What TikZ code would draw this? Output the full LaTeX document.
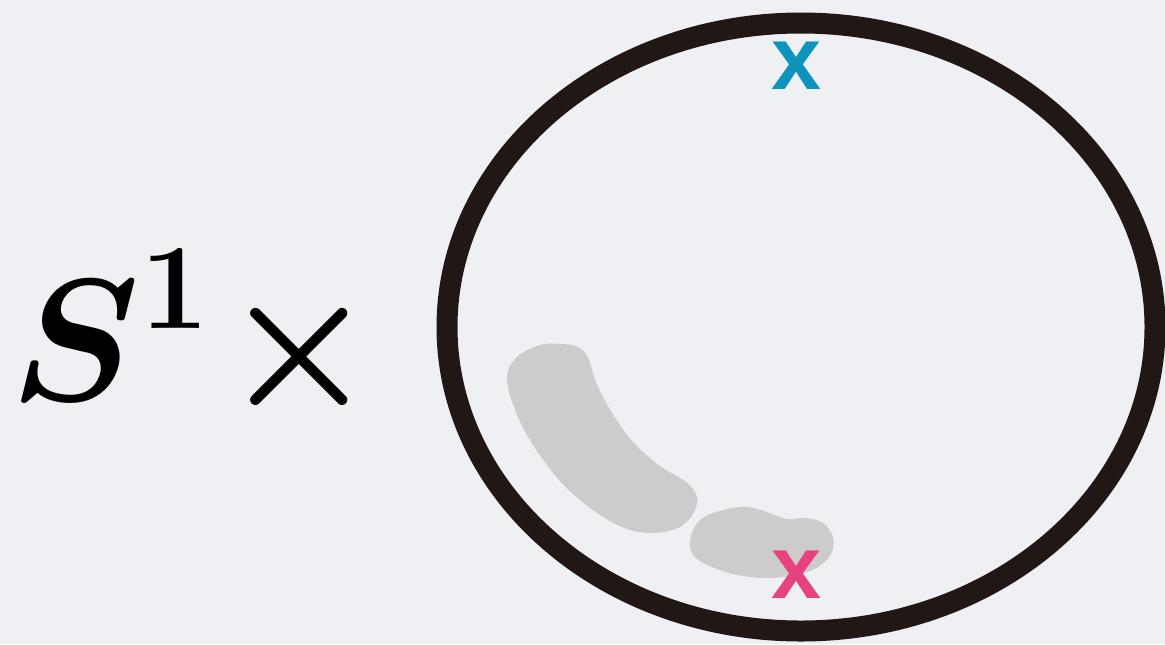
\documentclass[tikz,border=0pt]{standalone}
\usepackage{fix-cm}
\usepackage{fontspec}
\newfontfamily\xfont{Liberation Sans}
\definecolor{bgc}{HTML}{EFF0F3}
\definecolor{ringc}{HTML}{211815}
\definecolor{blobc}{HTML}{CBCCCB}
\definecolor{bluex}{HTML}{0E93BC}
\definecolor{pinkx}{HTML}{E8417F}
\tikzset{
  ring/.style={draw=ringc, line width=10.5pt},
  blob/.style={fill=blobc, draw=none},
  mark x/.style={inner sep=0pt, font=\xfont\bfseries\fontsize{45}{50}\selectfont},
}
\begin{document}
\begin{tikzpicture}[x=0.5pt,y=-0.5pt]
\fill[bgc] (0,0) rectangle (1165,644);
\useasboundingbox (0,0) rectangle (1165,644);
\node[anchor=base west, inner sep=0pt, font=\fontsize{87}{90}\selectfont\boldmath] (lbl) at (10,400) {$\displaystyle S^{\hbox{\fontsize{61}{61}\usefont{OT1}{cmr}{bx}{n}1}}\mkern1mu\times$};
\draw[ring] (801,327) ellipse [x radius=354, y radius=304];
\fill[blob] plot[smooth cycle, tension=0.6] coordinates {(507,377) (517,357) (540,345) (563,344) (580,348) (589,360) (596,382) (612,413) (634,443) (660,466) (686,482) (697,497) (693,514) (678,528) (650,533) (622,527) (590,508) (560,481) (533,445) (515,410)};
\fill[blob] plot[smooth cycle, tension=0.6] coordinates {(690,540) (700,520) (723,510) (747,507) (767,512) (787,519) (805,518) (823,523) (833,537) (831,554) (818,567) (797,575) (767,578) (738,575) (712,567) (694,556)};
\node[mark x, text=bluex] (xtop) at (797,66) {x};
\node[mark x, text=pinkx] (xbot) at (797,575) {x};
\end{tikzpicture}
\end{document}
